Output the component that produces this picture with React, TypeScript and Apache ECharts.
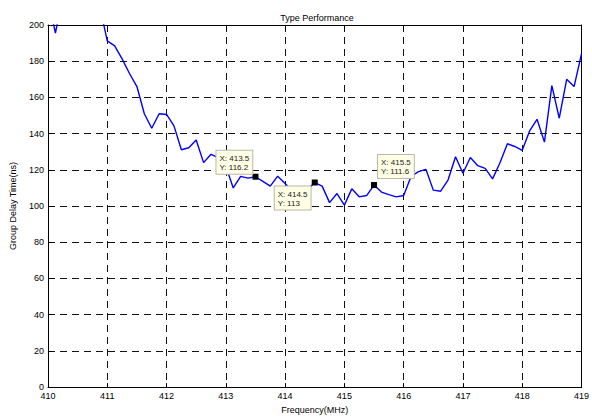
import React, { useEffect, useRef } from "react";
import * as echarts from "echarts";

const chartTitle = "Type Performance";
const xAxisName = "Frequency(MHz)";
const yAxisName = "Group Delay Time(ns)";

const frequencies = [
  410.0, 410.125, 410.25, 410.375, 410.5, 410.625, 410.75, 410.875,
  411.0, 411.125, 411.25, 411.375, 411.5, 411.625, 411.75, 411.875,
  412.0, 412.125, 412.25, 412.375, 412.5, 412.625, 412.75, 412.875,
  413.0, 413.125, 413.25, 413.375, 413.5, 413.625, 413.75, 413.875,
  414.0, 414.125, 414.25, 414.375, 414.5, 414.625, 414.75, 414.875,
  415.0, 415.125, 415.25, 415.375, 415.5, 415.625, 415.75, 415.875,
  416.0, 416.125, 416.25, 416.375, 416.5, 416.625, 416.75, 416.875,
  417.0, 417.125, 417.25, 417.375, 417.5, 417.625, 417.75, 417.875,
  418.0, 418.125, 418.25, 418.375, 418.5, 418.625, 418.75, 418.875,
  419.0,
];

const delays = [
  215, 195.5, 216, 232, 245, 240, 228, 210,
  191.2, 188.5, 181.3, 173.2, 166, 151, 143, 151,
  150.6, 144.3, 131.1, 132.2, 136.5, 124, 128.6, 126.8,
  122, 110, 116.4, 115.4, 116.2, 113.6, 111, 116.5,
  112.5, 108, 105, 109, 113, 111, 101.9, 106.9,
  100.5, 109.5, 105.1, 105.8, 111.6, 107.7, 106.3, 105.1,
  105.8, 116.3, 119, 120.3, 108.8, 108.2, 114.5, 127.2,
  118.1, 126.8, 122.3, 120.8, 115, 123.9, 134.4, 132.9,
  130.8, 141.5, 147.9, 135.3, 166.5, 148.5, 170, 166,
  184,
];

const tipFreqs = [413.5, 414.5, 415.5];
const tipDelays = [116.2, 113, 111.6];

const xMin = 410;
const xMax = 419;
const xStep = 1;
const yMin = 0;
const yMax = 200;
const yStep = 20;

export default function App() {
  const ref = useRef<HTMLDivElement>(null);

  useEffect(() => {
    if (!ref.current) return;
    const chart = echarts.init(ref.current, undefined, { renderer: "svg" });
    const font = "Liberation Sans, Arial, sans-serif";
    const tipPositions = [
      [-36, -23],
      [-37, 7],
      [7, -27],
    ];
    const gridLine = { show: true, lineStyle: { color: "#111", width: 1, type: [7, 5] as any } };
    const option: any = {
      animation: false,
      backgroundColor: "#ffffff",
      title: {
        text: chartTitle,
        left: 312,
        top: 8,
        textAlign: "center",
        textStyle: { fontFamily: font, fontSize: 9, fontWeight: "normal", color: "#000" },
      },
      grid: { left: 39, right: 6, top: 25, bottom: 24, containLabel: false },
      xAxis: [
        {
          type: "value",
          min: xMin,
          max: xMax,
          interval: xStep,
          name: xAxisName,
          nameLocation: "middle",
          nameGap: 14,
          nameTextStyle: { fontFamily: font, fontSize: 9, color: "#000" },
          axisLine: { show: true, onZero: false, lineStyle: { color: "#000", width: 1 } },
          axisTick: { show: true, inside: true, length: 4, lineStyle: { color: "#000" } },
          axisLabel: { fontFamily: font, fontSize: 9, color: "#000", margin: 4 },
          splitLine: gridLine,
        },
        {
          type: "value",
          position: "top",
          min: xMin,
          max: xMax,
          interval: xStep,
          axisLine: { show: true, onZero: false, lineStyle: { color: "#000", width: 1 } },
          axisTick: { show: true, inside: true, length: 4, lineStyle: { color: "#000" } },
          axisLabel: { show: false },
          splitLine: { show: false },
        },
      ],
      yAxis: [
        {
          type: "value",
          min: yMin,
          max: yMax,
          interval: yStep,
          name: yAxisName,
          nameLocation: "middle",
          nameGap: 31,
          nameRotate: 90,
          nameTextStyle: { fontFamily: font, fontSize: 9, color: "#000" },
          axisLine: { show: true, onZero: false, lineStyle: { color: "#000", width: 1 } },
          axisTick: { show: true, inside: true, length: 4, lineStyle: { color: "#000" } },
          axisLabel: { fontFamily: font, fontSize: 9, color: "#000", margin: 4 },
          splitLine: gridLine,
        },
        {
          type: "value",
          position: "right",
          min: yMin,
          max: yMax,
          interval: yStep,
          axisLine: { show: true, onZero: false, lineStyle: { color: "#000", width: 1 } },
          axisTick: { show: true, inside: true, length: 4, lineStyle: { color: "#000" } },
          axisLabel: { show: false },
          splitLine: { show: false },
        },
      ],
      series: [
        {
          type: "line",
          xAxisIndex: 0,
          yAxisIndex: 0,
          data: frequencies.map((f, i) => [f, delays[i]]),
          showSymbol: false,
          symbol: "none",
          clip: true,
          lineStyle: { color: "#0000ff", width: 1.4 },
          markPoint: {
            symbol: "rect",
            symbolSize: 6,
            itemStyle: { color: "#000" },
            data: tipFreqs.map((f, i) => ({
              coord: [f, tipDelays[i]],
              label: {
                show: true,
                position: tipPositions[i],
                formatter: `X: ${f}\nY: ${tipDelays[i]}`,
                fontFamily: font,
                fontSize: 8,
                lineHeight: 9,
                color: "#222",
                align: "left",
                verticalAlign: "top",
                backgroundColor: "#ffffe6",
                borderColor: "#b8b8a8",
                borderWidth: 1,
                padding: [3, 3, 2, 3],
              },
            })),
          },
        },
      ],
    };
    chart.setOption(option);
    return () => chart.dispose();
  }, []);

  return (
    <div
      ref={ref}
      style={{ position: "fixed", left: 0, top: 0, width: 592, height: 419, background: "#fff" }}
    />
  );
}
